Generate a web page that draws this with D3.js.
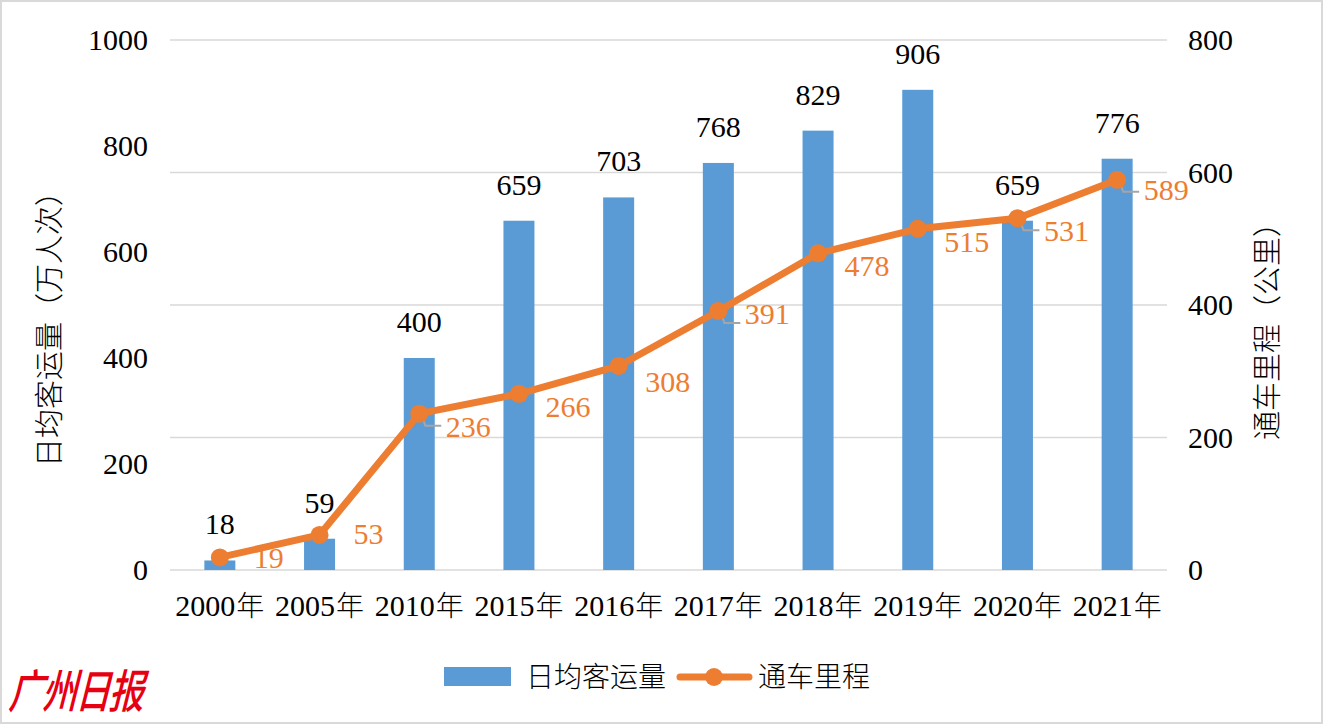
<!DOCTYPE html>
<html lang="zh">
<head>
    <meta charset="UTF-8">
    <title>广州地铁 日均客运量与通车里程</title>
    <style>
        body { margin: 0; background: #fff; }
        .num { font-family: "Liberation Serif", "Times New Roman", serif; }
        .cjk { font-family: "Noto Sans CJK SC", sans-serif; }
    </style>
</head>
<body>
    <div id="chart"></div>

    <script src="https://d3js.org/d3.v7.min.js"></script>
    <script>
        // data
        const years = ["2000", "2005", "2010", "2015", "2016", "2017", "2018", "2019", "2020", "2021"];
        const ridership = [18, 59, 400, 659, 703, 768, 829, 906, 659, 776];   // 日均客运量（万人次）
        const mileage = [19, 53, 236, 266, 308, 391, 478, 515, 531, 589];     // 通车里程（公里）
        const leftTicks = [0, 200, 400, 600, 800, 1000];
        const rightTicks = [0, 200, 400, 600, 800];

        const width = 1325;
        const height = 725;
        const blue = "#5b9bd5";
        const orange = "#ed7d31";
        const numSize = "30px";

        const svg = d3.select("#chart")
            .append("svg")
            .attr("width", width)
            .attr("height", height);

        // frame
        svg.append("rect")
            .attr("x", 1).attr("y", 1)
            .attr("width", width - 4).attr("height", height - 3)
            .attr("fill", "#fff")
            .attr("stroke", "#d9d9d9")
            .attr("stroke-width", 2);

        const x = d3.scaleBand()
            .domain(years)
            .range([170, 1167]);

        const yL = d3.scaleLinear().domain([0, 1000]).range([570, 40]);
        const yR = d3.scaleLinear().domain([0, 800]).range([570, 40]);
        const barW = 31;
        const cx = d => x(d) + x.bandwidth() / 2;

        // grid lines follow the right axis
        svg.append("g")
            .selectAll("line")
            .data(rightTicks)
            .enter()
            .append("line")
            .attr("x1", 170).attr("x2", 1167)
            .attr("y1", d => yR(d)).attr("y2", d => yR(d))
            .attr("stroke", "#d9d9d9")
            .attr("stroke-width", 1.5);

        // left axis
        const leftAxis = svg.append("g")
            .attr("transform", "translate(160,0)")
            .call(d3.axisLeft(yL).tickValues(leftTicks).tickFormat(d3.format("d")).tickSize(0).tickPadding(12));
        leftAxis.select(".domain").remove();
        leftAxis.selectAll("text")
            .attr("class", "num")
            .style("font-size", numSize)
            .attr("fill", "#000");

        // right axis
        const rightAxis = svg.append("g")
            .attr("transform", "translate(1176,0)")
            .call(d3.axisRight(yR).tickValues(rightTicks).tickFormat(d3.format("d")).tickSize(0).tickPadding(12));
        rightAxis.select(".domain").remove();
        rightAxis.selectAll("text")
            .attr("class", "num")
            .style("font-size", numSize)
            .attr("fill", "#000");

        // category labels
        const xAxis = svg.append("g")
            .attr("transform", "translate(0,570)")
            .call(d3.axisBottom(x).tickSize(0).tickPadding(0).tickFormat(() => ""));
        xAxis.select(".domain").remove();
        xAxis.selectAll(".tick text").remove();
        const cat = xAxis.selectAll(".tick")
            .append("text")
            .attr("y", 46)
            .attr("text-anchor", "middle")
            .attr("fill", "#000")
            .style("font-size", numSize);
        cat.append("tspan").attr("class", "num").text(d => d);
        cat.append("tspan").attr("class", "cjk").attr("dx", 1).style("font-size", "28px").style("font-weight", 300).text("年");

        // bars
        svg.append("g")
            .selectAll("rect")
            .data(years)
            .enter()
            .append("rect")
            .attr("x", d => cx(d) - barW / 2)
            .attr("y", (d, i) => yL(ridership[i]))
            .attr("width", barW)
            .attr("height", (d, i) => yL(0) - yL(ridership[i]))
            .attr("fill", blue);

        // bar labels
        svg.append("g")
            .selectAll("text")
            .data(years)
            .enter()
            .append("text")
            .attr("class", "num")
            .attr("x", d => cx(d))
            .attr("y", (d, i) => yL(ridership[i]) - 26)
            .attr("text-anchor", "middle")
            .attr("fill", "#000")
            .style("font-size", numSize)
            .text((d, i) => ridership[i]);

        // leader lines for some line labels
        const leaderIdx = [2, 5, 8, 9];
        svg.append("g")
            .selectAll("path")
            .data(leaderIdx)
            .enter()
            .append("path")
            .attr("d", i => {
                const px = cx(years[i]), py = yR(mileage[i]);
                return `M${px + 2},${py} L${px + 6},${py + 12} L${px + 22},${py + 12}`;
            })
            .attr("fill", "none")
            .attr("stroke", "#a5a5a5")
            .attr("stroke-width", 2);

        // line
        const line = d3.line()
            .x((d, i) => cx(years[i]))
            .y(d => yR(d));

        svg.append("path")
            .datum(mileage)
            .attr("d", line)
            .attr("fill", "none")
            .attr("stroke", orange)
            .attr("stroke-width", 7)
            .attr("stroke-linejoin", "round");

        svg.append("g")
            .selectAll("circle")
            .data(mileage)
            .enter()
            .append("circle")
            .attr("cx", (d, i) => cx(years[i]))
            .attr("cy", d => yR(d))
            .attr("r", 9)
            .attr("fill", orange);

        // line labels, right of the points
        const nudgeY = [0, -2, 12, 12, 15, 2, 12, 12, 12, 9];
        svg.append("g")
            .selectAll("text")
            .data(mileage)
            .enter()
            .append("text")
            .attr("class", "num")
            .attr("x", (d, i) => cx(years[i]) + 49)
            .attr("y", (d, i) => yR(d) + nudgeY[i] + 11)
            .attr("text-anchor", "middle")
            .attr("fill", orange)
            .style("font-size", numSize)
            .text(d => d);

        // axis titles
        svg.append("text")
            .attr("class", "cjk")
            .attr("transform", "translate(60,322) rotate(-90)")
            .attr("text-anchor", "middle")
            .attr("fill", "#000")
            .style("font-size", "29px")
            .style("font-weight", 300)
            .text("日均客运量（万人次）");

        svg.append("text")
            .attr("class", "cjk")
            .attr("transform", "translate(1278,324) rotate(-90)")
            .attr("text-anchor", "middle")
            .attr("fill", "#000")
            .style("font-size", "29px")
            .style("font-weight", 300)
            .text("通车里程（公里）");

        // legend
        const legend = svg.append("g").attr("class", "legend");
        legend.append("rect")
            .attr("x", 444).attr("y", 667)
            .attr("width", 67).attr("height", 19)
            .attr("fill", blue);
        legend.append("text")
            .attr("class", "cjk")
            .attr("x", 526).attr("y", 687)
            .attr("fill", "#000")
            .style("font-size", "28px")
            .style("font-weight", 300)
            .text("日均客运量");
        legend.append("line")
            .attr("x1", 680).attr("x2", 749)
            .attr("y1", 677).attr("y2", 677)
            .attr("stroke", orange)
            .attr("stroke-width", 7)
            .attr("stroke-linecap", "round");
        legend.append("circle")
            .attr("cx", 714).attr("cy", 677)
            .attr("r", 9)
            .attr("fill", orange);
        legend.append("text")
            .attr("class", "cjk")
            .attr("x", 758).attr("y", 687)
            .attr("fill", "#000")
            .style("font-size", "28px")
            .style("font-weight", 300)
            .text("通车里程");

        // newspaper mark
        svg.append("text")
            .attr("class", "cjk")
            .attr("x", 0).attr("y", 0)
            .attr("fill", "#e60012")
            .attr("transform", "translate(8,708) skewX(-14) scale(0.88,1.15)")
            .style("font-size", "40px")
            .style("font-weight", 500)
            .style("letter-spacing", "-2px")
            .text("广州日报");
    </script>
</body>
</html>
